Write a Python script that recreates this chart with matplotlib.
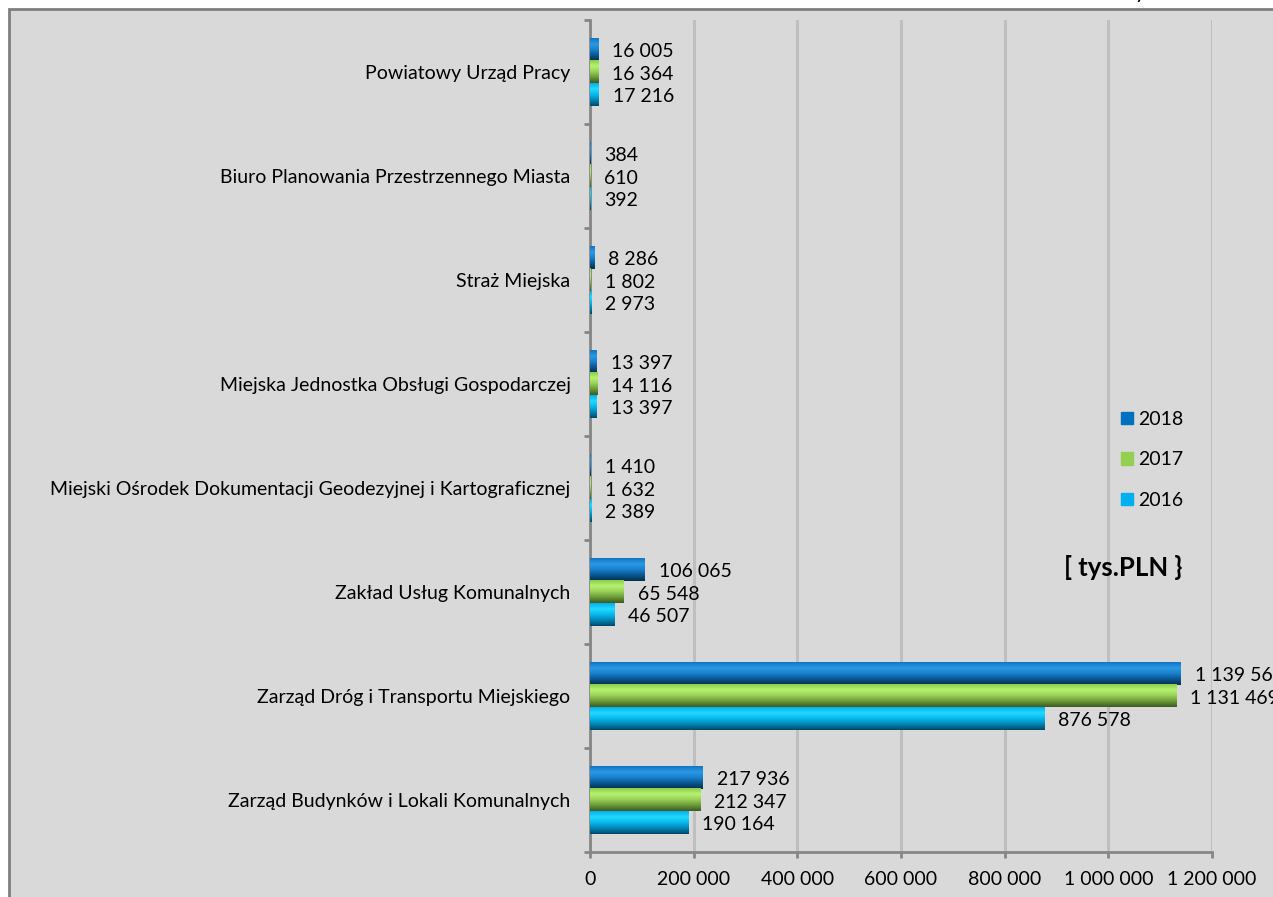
import matplotlib.pyplot as plt
import matplotlib.patches as patches
from matplotlib.colors import LinearSegmentedColormap
import numpy as np

plt.rcParams['font.family'] = ['Lato', 'DejaVu Sans']

# data (bottom to top as drawn)
categories = [
    'Zarząd Budynków i Lokali Komunalnych',
    'Zarząd Dróg i Transportu Miejskiego',
    'Zakład Usług Komunalnych',
    'Miejski Ośrodek Dokumentacji Geodezyjnej i Kartograficznej',
    'Miejska Jednostka Obsługi Gospodarczej',
    'Straż Miejska',
    'Biuro Planowania Przestrzennego Miasta',
    'Powiatowy Urząd Pracy',
]
v2018 = [217936, 1139565, 106065, 1410, 13397, 8286, 384, 16005]
v2017 = [212347, 1131469, 65548, 1632, 14116, 1802, 610, 16364]
v2016 = [190164, 876578, 46507, 2389, 13397, 2973, 392, 17216]
years = ['2018', '2017', '2016']
xticks = [0, 200000, 400000, 600000, 800000, 1000000, 1200000]

W, H = 1273, 897
fig = plt.figure(figsize=(W / 100, H / 100), dpi=100, facecolor='white')

# grey panel with border on top / left
bg = patches.Rectangle((9 / W, -0.1), 1.2, 1 - 9 / H + 0.1, transform=fig.transFigure,
                       facecolor='#d9d9d9', edgecolor='#7f7f7f', linewidth=2, zorder=-10)
fig.patches.append(bg)

ax = fig.add_axes([590 / W, 1 - 852 / H, (1212 - 590) / W, (852 - 20) / H])
ax.set_facecolor('none')
ax.set_zorder(1)

# gradient colours, top -> bottom of each bar
grads = {
    '2018': ['#1274c4', '#2a9ae4', '#1a80cc', '#0a5590', '#06304e'],
    '2017': ['#8ccc4c', '#b8f270', '#98d058', '#6a9a38', '#3e5a22'],
    '2016': ['#04b0ec', '#22daff', '#08b8ec', '#0084b4', '#004a66'],
}
solid = {'2018': '#0070c0', '2017': '#92d050', '2016': '#00b0f0'}

h = 0.22
y = np.arange(len(categories))
series = [v2018, v2017, v2016]
offsets = [h, 0, -h]
grad = np.linspace(0, 1, 64).reshape(-1, 1)

for yr, vals, off in zip(years, series, offsets):
    cmap = LinearSegmentedColormap.from_list(yr, grads[yr])
    for yi, v in zip(y, vals):
        y0 = yi + off - h / 2
        ax.imshow(grad, cmap=cmap, extent=(0, v, y0, y0 + h), origin='upper',
                  aspect='auto', zorder=3, interpolation='bilinear')
        ax.annotate(f'{v:,}'.replace(',', ' '), xy=(v, yi + off), xytext=(10, -1.5),
                    textcoords='offset points', va='center', ha='left',
                    fontsize=14, color='black', annotation_clip=False, zorder=5)

ax.set_xlim(0, 1200000)
ax.set_ylim(-0.5, len(categories) - 0.5)

ax.set_xticks(xticks)
ax.set_xticklabels([f'{t:,}'.replace(',', ' ') for t in xticks], fontsize=14)
ax.tick_params(axis='x', length=4.5, width=2, color='#868686', pad=9)
ax.grid(axis='x', color='#bfbfbf', linewidth=2.2, zorder=1)
ax.set_axisbelow(True)

ax.set_yticks(y)
ax.set_yticklabels(categories, fontsize=14)
ax.tick_params(axis='y', which='major', length=0, pad=14)
ax.set_yticks(np.arange(len(categories) + 1) - 0.5, minor=True)
ax.tick_params(axis='y', which='minor', length=4.5, width=2, color='#868686')

for s in ['top', 'right']:
    ax.spines[s].set_visible(False)
for s in ['left', 'bottom']:
    ax.spines[s].set_color('#868686')
    ax.spines[s].set_linewidth(2)

handles = [patches.Patch(color=solid[yr], label=yr) for yr in years]
fig.legend(handles=handles, loc='upper left', bbox_to_anchor=(1121 / W, 1 - 411 / H),
           frameon=False, fontsize=14, handlelength=0.6, handleheight=0.6,
           handletextpad=0.3, labelspacing=1.2, borderpad=0, borderaxespad=0)

fig.text(1064 / W, 1 - 567 / H, '[ tys.PLN }', fontsize=18.5, fontweight='bold',
         va='center', ha='left')
# descender of a cut-off title above the panel
fig.text(1135 / W, 1 + 2 / H, 'y', fontsize=15, va='baseline', ha='left')

fig.savefig('out.png', dpi=100, facecolor='white')
